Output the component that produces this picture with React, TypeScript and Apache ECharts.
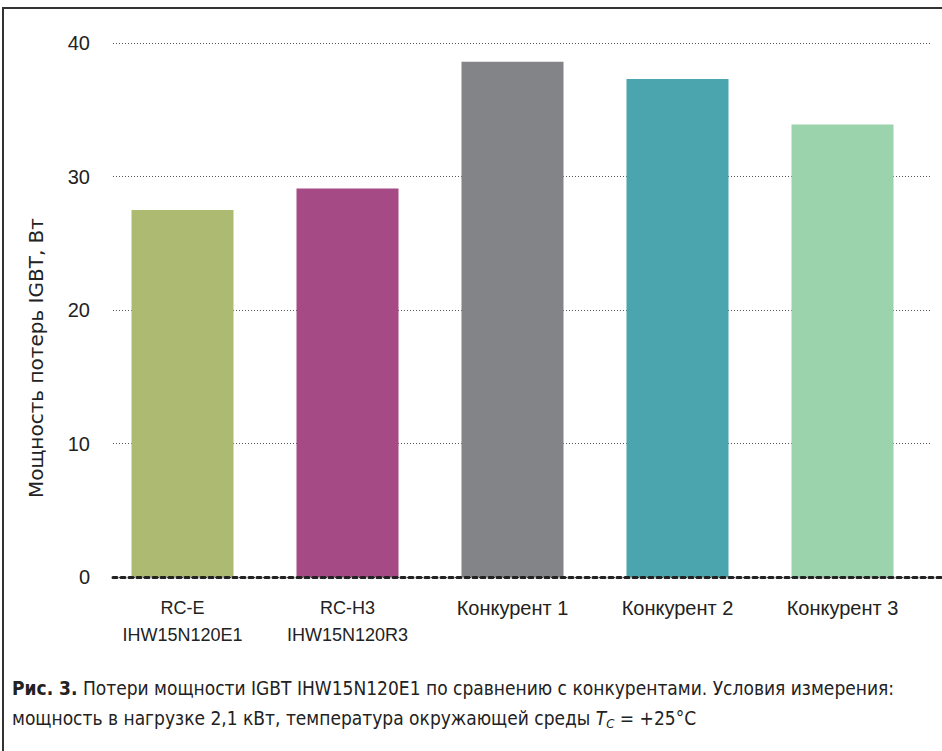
import React, { useEffect, useRef } from "react";
import * as echarts from "echarts";

const categories = ["RC-E\nIHW15N120E1", "RC-H3\nIHW15N120R3", "Конкурент 1", "Конкурент 2", "Конкурент 3"];
const values = [27.5, 29.1, 38.6, 37.3, 33.9];
const barColors = ["#adbb72", "#a64a86", "#838488", "#4aa5ae", "#9bd3ad"];
const yTicks = { min: 0, max: 40, interval: 10 };
const yAxisTitle = "Мощность потерь IGBT, Вт";
const captionBold = "Рис. 3.";
const captionLine1 = " Потери мощности IGBT IHW15N120E1 по сравнению с конкурентами. Условия измерения:";
const captionLine2a = "мощность в нагрузке 2,1 кВт, температура окружающей среды ";

export default function App() {
  const ref = useRef<HTMLDivElement>(null);
  useEffect(() => {
    if (!ref.current) return;
    const chart = echarts.init(ref.current, null, { renderer: "svg" });
    const font = "'Liberation Sans', Arial, sans-serif";
    const wideFont = "'DejaVu Sans', sans-serif";
    const capFont = "'DejaVu Sans Condensed', 'Liberation Sans Narrow', sans-serif";
    chart.setOption({
      animation: false,
      backgroundColor: "#ffffff",
      grid: [
        { left: 113, right: 12, top: 43, height: 534 },
        { left: 100, width: 825, top: 43, height: 534 },
        { left: 113, right: 0, top: 43, height: 534 },
      ],
      xAxis: [
        { gridIndex: 0, type: "value", show: false },
        {
          gridIndex: 1,
          type: "category",
          data: categories,
          axisLine: { show: false },
          axisTick: { show: false },
          axisLabel: {
            margin: 17,
            fontFamily: font,
            fontSize: 18,
            color: "#222",
            lineHeight: 27,
            formatter: (v: string) => (/[А-яЁё]/.test(v) ? "{c|" + v + "}" : v),
            rich: {
              c: { fontFamily: font, fontSize: 20, color: "#222", lineHeight: 27 },
            },
          },
        },
        {
          gridIndex: 2,
          type: "value",
          axisLine: {
            show: true,
            lineStyle: { color: "#222", width: 3, type: [4, 4] },
          },
          axisTick: { show: false },
          axisLabel: { show: false },
          splitLine: { show: false },
          z: 10,
        },
      ],
      yAxis: [
        {
          gridIndex: 0,
          type: "value",
          min: yTicks.min,
          max: yTicks.max,
          interval: yTicks.interval,
          axisLine: { show: false },
          axisTick: { show: false },
          axisLabel: {
            margin: 23,
            fontFamily: font,
            fontSize: 20,
            color: "#222",
          },
          splitLine: {
            show: true,
            lineStyle: { color: "#555", width: 1, type: [1, 2] },
          },
        },
        {
          gridIndex: 1,
          type: "value",
          min: yTicks.min,
          max: yTicks.max,
          interval: yTicks.interval,
          show: false,
        },
        {
          gridIndex: 2,
          type: "value",
          min: yTicks.min,
          max: yTicks.max,
          show: false,
        },
      ],
      series: [
        {
          type: "bar",
          xAxisIndex: 1,
          yAxisIndex: 1,
          barWidth: 102,
          data: values.map((v, i) => ({ value: v, itemStyle: { color: barColors[i] } })),
          z: 2,
        },
      ],
      graphic: [
        {
          type: "rect",
          shape: { x: 3, y: 8, width: 1000, height: 800 },
          style: { fill: "none", stroke: "#333", lineWidth: 2 },
          silent: true,
        },
        {
          type: "text",
          x: 36,
          y: 358,
          rotation: Math.PI / 2,
          style: {
            text: yAxisTitle,
            fontFamily: wideFont,
            fontSize: 20,
            fill: "#222",
            align: "center",
            verticalAlign: "middle",
          },
        },
        {
          type: "text",
          x: 12,
          y: 673,
          style: {
            text:
              "{b|" + captionBold + "}{n|" + captionLine1 + "}\n{n|" + captionLine2a + "}{i|T}{s|C}{n| = +25°C}",
            fontFamily: capFont,
            fontSize: 19,
            fill: "#222",
            rich: {
              b: { fontFamily: capFont, fontSize: 19, fontWeight: "bold", fill: "#222", lineHeight: 30 },
              n: { fontFamily: capFont, fontSize: 19, fill: "#222", lineHeight: 30 },
              i: { fontFamily: capFont, fontSize: 19, fontStyle: "italic", fill: "#222", lineHeight: 30 },
              s: { fontFamily: capFont, fontSize: 13, fontStyle: "italic", fill: "#222", lineHeight: 30, padding: [10, 0, 0, 0] },
            },
          },
        },
      ],
    });
    return () => chart.dispose();
  }, []);
  return (
    <div
      ref={ref}
      style={{ position: "fixed", left: 0, top: 0, width: 942, height: 751 }}
    />
  );
}
